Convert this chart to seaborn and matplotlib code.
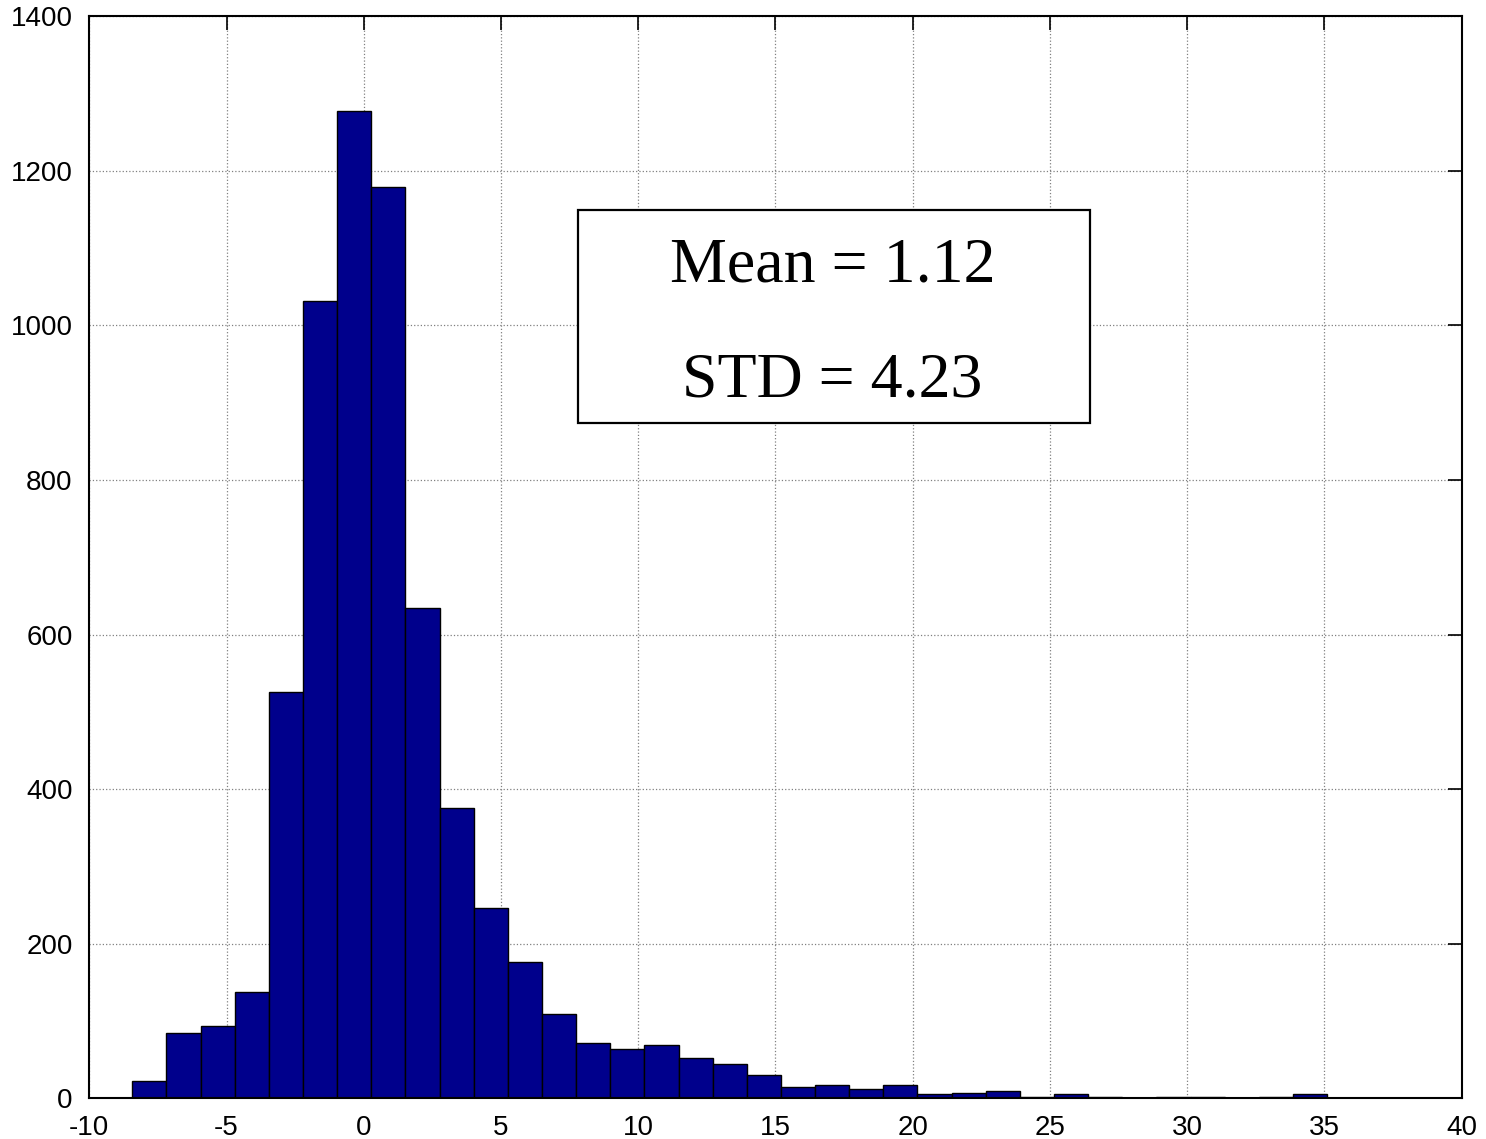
import numpy as np
import pandas as pd
import matplotlib
matplotlib.use("Agg")
import matplotlib.pyplot as plt
from matplotlib.patches import Rectangle
import seaborn as sns

# ---- data ----
bin_start = -8.434
bin_end = 35.10
n_bins = 35
counts = [22, 84, 94, 138, 525, 1032, 1277, 1179, 634, 375,
          246, 177, 109, 72, 64, 69, 52, 44, 30, 15,
          17, 12, 17, 5, 7, 10, 2, 5, 2, 0,
          2, 2, 0, 2, 5]
x_ticks = [-10, -5, 0, 5, 10, 15, 20, 25, 30, 35, 40]
y_ticks = [0, 200, 400, 600, 800, 1000, 1200, 1400]
stat_lines = ["Mean = 1.12", "STD = 4.23"]

edges = np.linspace(bin_start, bin_end, n_bins + 1)
centers = (edges[:-1] + edges[1:]) / 2
df = pd.DataFrame({"value": centers, "count": counts})

sns.set_style("white")
plt.rcParams["font.family"] = ["Liberation Sans", "DejaVu Sans"]
plt.rcParams["axes.unicode_minus"] = False
plt.rcParams["text.color"] = "black"

fig = plt.figure(figsize=(14.86, 11.39), dpi=100)
ax = fig.add_axes([0.0601, 0.0357, 0.9235, 0.9502])

sns.histplot(data=df, x="value", weights="count", bins=n_bins,
             binrange=(bin_start, bin_end), color="#00008C",
             edgecolor="black", linewidth=1.0, alpha=1.0, ax=ax, zorder=2)

ax.set_xlim(-10, 40)
ax.set_ylim(0, 1400)
ax.set_xticks(x_ticks)
ax.set_yticks(y_ticks)
ax.set_xlabel("")
ax.set_ylabel("")
ax.grid(True, linestyle=":", color="#808080", linewidth=0.9, zorder=0)
ax.set_axisbelow(True)
ax.tick_params(axis="both", which="major", direction="in", length=10, width=1.2,
               labelsize=20, top=True, right=True, color="black",
               labelcolor="black")
ax.tick_params(axis="x", pad=12)
ax.tick_params(axis="y", pad=12)
for s in ax.spines.values():
    s.set_visible(True)
    s.set_color("black")
    s.set_linewidth(1.5)

# statistics box
ax.add_patch(Rectangle((7.80, 873.5), 26.46 - 7.80, 1149 - 873.5,
                       facecolor="white", edgecolor="black", linewidth=1.6,
                       zorder=5))
ax.text(17.08, 1056, stat_lines[0], ha="center", va="baseline", fontsize=46,
        color="black", family=["Liberation Serif", "DejaVu Serif"], zorder=6)
ax.text(17.08, 907.5, stat_lines[1], ha="center", va="baseline", fontsize=46,
        color="black", family=["Liberation Serif", "DejaVu Serif"], zorder=6)

fig.savefig("out.png", dpi=100)
